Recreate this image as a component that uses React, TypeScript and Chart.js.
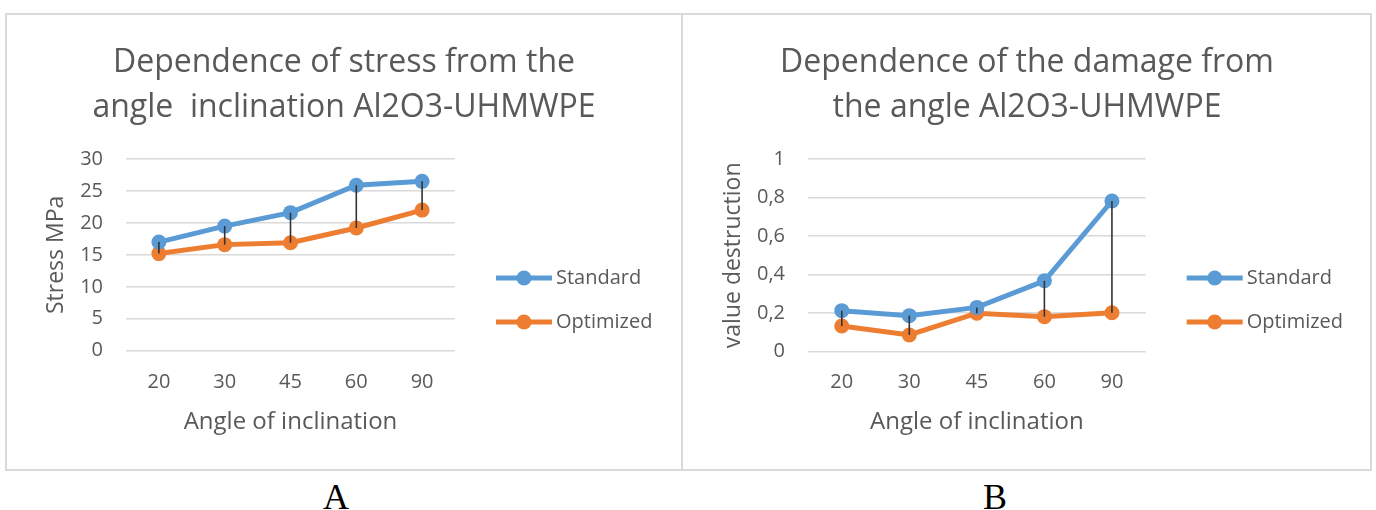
import React, { useEffect, useRef } from 'react';
import { Chart, registerables } from 'chart.js';

Chart.register(...registerables);

// ---------- data ----------
const categories = ['20', '30', '45', '60', '90'];
const seriesNames = ['Standard', 'Optimized'];
const seriesColors = ['#5B9BD5', '#ED7D31'];

const stressStandard = [17.0, 19.5, 21.6, 25.9, 26.5];
const stressOptimized = [15.2, 16.6, 16.9, 19.2, 22.0];
const stressTicks = ['0', '5', '10', '15', '20', '25', '30'];

const damageStandard = [0.213, 0.187, 0.23, 0.368, 0.782];
const damageOptimized = [0.133, 0.087, 0.2, 0.182, 0.202];
const damageTicks = ['0', '0,2', '0,4', '0,6', '0,8', '1'];

const titleA = ['Dependence of stress from the', 'angle  inclination Al2O3-UHMWPE'];
const titleB = ['Dependence of the damage from', 'the angle Al2O3-UHMWPE'];
const xTitle = 'Angle of inclination';
const yTitleA = 'Stress MPa';
const yTitleB = 'value destruction';
const panelLabels = ['A', 'B'];

// ---------- style ----------
const FONT = "'Open Sans', 'Noto Sans', sans-serif";
const TEXT = '#595959';
const GRID = '#d9d9d9';

const hiLowPlugin = {
  id: 'hiLow',
  afterDatasetsDraw(chart: any) {
    const a = chart.getDatasetMeta(0).data;
    const b = chart.getDatasetMeta(1).data;
    const ctx = chart.ctx;
    ctx.save();
    ctx.strokeStyle = '#333333';
    ctx.lineWidth = 1.6;
    a.forEach((p: any, i: number) => {
      const q = b[i];
      if (!q) return;
      ctx.beginPath();
      ctx.moveTo(p.x, p.y);
      ctx.lineTo(q.x, q.y);
      ctx.stroke();
    });
    ctx.restore();
  },
};

const sideLegendPlugin = {
  id: 'sideLegend',
  afterDraw(chart: any, _args: any, opts: any) {
    const ctx = chart.ctx;
    const right = chart.chartArea.right;
    chart.data.datasets.forEach((ds: any, i: number) => {
      const y = opts.rows[i];
      const x0 = right + opts.lineStart;
      const x1 = x0 + opts.lineLength;
      ctx.save();
      ctx.strokeStyle = ds.borderColor;
      ctx.lineWidth = 5;
      ctx.beginPath();
      ctx.moveTo(x0, y);
      ctx.lineTo(x1, y);
      ctx.stroke();
      ctx.fillStyle = ds.borderColor;
      ctx.beginPath();
      ctx.arc((x0 + x1) / 2, y, 7.5, 0, Math.PI * 2);
      ctx.fill();
      ctx.fillStyle = TEXT;
      ctx.font = `20px ${FONT}`;
      ctx.textAlign = 'left';
      ctx.textBaseline = 'middle';
      ctx.fillText(ds.label, right + opts.textStart, y);
      ctx.restore();
    });
  },
};

type Layout = {
  yWidth: number;
  rightWidth: number;
  padBottom: number;
  yTitlePad: number;
  xTitlePad: number;
  xTickPad: number;
};

function makeConfig(
  title: string[],
  std: number[],
  opt: number[],
  ticks: string[],
  yMax: number,
  step: number,
  yTitle: string,
  L: Layout
): any {
  const ds = (label: string, data: number[], color: string) => ({
    label,
    data,
    borderColor: color,
    backgroundColor: color,
    borderWidth: 5,
    pointRadius: 7.5,
    pointBackgroundColor: color,
    pointBorderColor: color,
    pointBorderWidth: 0,
    tension: 0,
    clip: false,
    yAxisID: 'y',
  });
  return {
    type: 'line',
    data: {
      labels: categories,
      datasets: [
        ds(seriesNames[0], std, seriesColors[0]),
        ds(seriesNames[1], opt, seriesColors[1]),
      ],
    },
    options: {
      responsive: false,
      animation: false,
      devicePixelRatio: 1,
      layout: { padding: { left: 10, right: 10, top: 0, bottom: L.padBottom } },
      plugins: {
        legend: { display: false },
        tooltip: { enabled: false },
        title: {
          display: true,
          text: title,
          color: TEXT,
          font: { family: FONT, size: 32, weight: 'normal', lineHeight: 1.4 },
          padding: { top: 25.6, bottom: 28.8 },
        },
        sideLegend: { rows: [263, 307], lineStart: 41, lineLength: 56, textStart: 101 },
      },
      scales: {
        x: {
          offset: true,
          grid: { display: false, drawTicks: false },
          border: { display: false },
          ticks: { color: TEXT, font: { family: FONT, size: 20 }, padding: L.xTickPad },
          title: {
            display: true,
            text: xTitle,
            color: TEXT,
            font: { family: FONT, size: 24, lineHeight: 1.2 },
            padding: { top: 0, bottom: L.xTitlePad },
          },
          afterFit: (s: any) => {
            s.height = 100;
          },
        },
        y: {
          min: 0,
          max: yMax,
          position: 'left',
          grid: { color: GRID, lineWidth: 1.5, drawTicks: false },
          border: { display: false },
          ticks: {
            stepSize: step,
            color: TEXT,
            font: { family: FONT, size: 20 },
            padding: 23,
            callback: (_v: any, i: number) => ticks[i],
          },
          title: {
            display: true,
            text: yTitle,
            color: TEXT,
            font: { family: FONT, size: 23, lineHeight: 1.2 },
            padding: { top: L.yTitlePad, bottom: 0 },
          },
          afterFit: (s: any) => {
            s.width = L.yWidth;
          },
        },
        legendSpace: {
          position: 'right',
          display: true,
          grid: { display: false, drawTicks: false },
          border: { display: false },
          ticks: { display: false },
          afterFit: (s: any) => {
            s.width = L.rightWidth;
          },
        },
      },
    },
    plugins: [hiLowPlugin, sideLegendPlugin],
  };
}

function ChartCanvas(props: { left: number; top: number; width: number; height: number; config: any }) {
  const ref = useRef<HTMLCanvasElement>(null);
  useEffect(() => {
    const chart = new Chart(ref.current as HTMLCanvasElement, props.config);
    return () => chart.destroy();
  }, []);
  return (
    <canvas
      ref={ref}
      width={props.width}
      height={props.height}
      style={{ position: 'absolute', left: props.left, top: props.top, width: props.width, height: props.height }}
    />
  );
}

export default function App() {
  const cfgA = makeConfig(titleA, stressStandard, stressOptimized, stressTicks, 30, 5, yTitleA, {
    yWidth: 109,
    rightWidth: 216,
    padBottom: 18.3,
    yTitlePad: 25.2,
    xTitlePad: 14.3,
    xTickPad: 19.8,
  });
  const cfgB = makeConfig(titleB, damageStandard, damageOptimized, damageTicks, 1, 0.2, yTitleB, {
    yWidth: 115,
    rightWidth: 215.3,
    padBottom: 17.3,
    yTitlePad: 26.2,
    xTitlePad: 15.3,
    xTickPad: 18.8,
  });
  const labelStyle: React.CSSProperties = {
    position: 'absolute',
    top: 477,
    width: 80,
    textAlign: 'center',
    fontFamily: "'Liberation Serif', 'Times New Roman', serif",
    fontSize: 36,
    lineHeight: '40px',
    color: '#000',
  };
  return (
    <div style={{ position: 'absolute', left: 0, top: 0, width: 1376, height: 510, background: '#fff', overflow: 'hidden' }}>
      <div
        style={{
          position: 'absolute',
          left: 5,
          top: 13,
          width: 1367,
          height: 458,
          border: '2px solid #d9d9d9',
          boxSizing: 'border-box',
        }}
      />
      <div style={{ position: 'absolute', left: 681, top: 13, width: 2, height: 458, background: '#d9d9d9' }} />
      <ChartCanvas left={7} top={15} width={674} height={454} config={cfgA} />
      <ChartCanvas left={683} top={15} width={688} height={454} config={cfgB} />
      <div style={{ ...labelStyle, left: 336 - 40 }}>{panelLabels[0]}</div>
      <div style={{ ...labelStyle, left: 995 - 40 }}>{panelLabels[1]}</div>
    </div>
  );
}
